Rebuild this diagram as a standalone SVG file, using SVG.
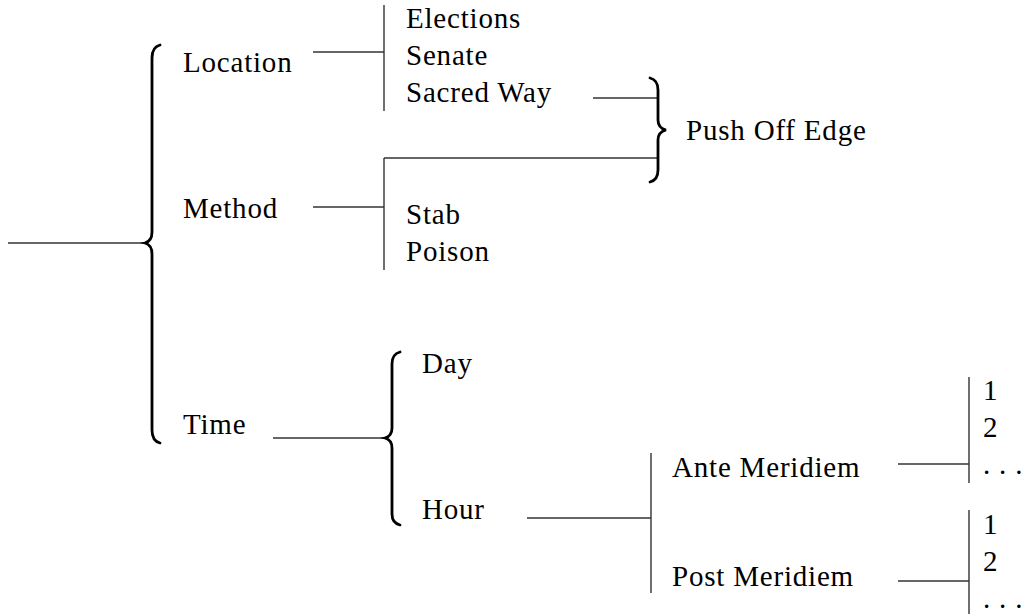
<svg xmlns="http://www.w3.org/2000/svg" width="1026" height="614" viewBox="0 0 1026 614">
<style>
text{font-family:"Liberation Serif","Times New Roman",serif;font-size:29px;fill:#000;letter-spacing:0.8px}
.ln{stroke:#333;stroke-width:1.4;fill:none}
.br{stroke:#000;stroke-width:2.8;fill:none;stroke-linecap:round}
</style>
<rect width="1026" height="614" fill="#fff"/>
<g id="connectors">
<line class="ln" x1="8" y1="243" x2="146" y2="243"/>
<line class="ln" x1="313" y1="52" x2="384" y2="52"/>
<line class="ln" x1="384" y1="5" x2="384" y2="111"/>
<line class="ln" x1="313" y1="207" x2="384" y2="207"/>
<line class="ln" x1="384" y1="158" x2="384" y2="270"/>
<line class="ln" x1="384" y1="158" x2="658" y2="158"/>
<line class="ln" x1="593" y1="98" x2="658" y2="98"/>
<line class="ln" x1="273" y1="438" x2="386" y2="438"/>
<line class="ln" x1="527" y1="518" x2="651" y2="518"/>
<line class="ln" x1="651" y1="453" x2="651" y2="593"/>
<line class="ln" x1="898" y1="464" x2="969" y2="464"/>
<line class="ln" x1="969" y1="377" x2="969" y2="483"/>
<line class="ln" x1="898" y1="581" x2="969" y2="581"/>
<line class="ln" x1="969" y1="510" x2="969" y2="614"/>
</g>
<g id="brace-root">
<path class="br" d="M160,45 Q152,47 152,58 L152,232 Q152,241 145,243 Q152,245 152,254 L152,430 Q152,441 160,443"/>
</g>
<g id="brace-time">
<path class="br" d="M400,352 Q392,354 392,364 L392,428 Q392,436 385,438 Q392,440 392,448 L392,514 Q392,523 400,525"/>
</g>
<g id="brace-push">
<path class="br" d="M650,78 Q658,80 658,90 L658,120 Q658,128 666,130 Q658,132 658,140 L658,170 Q658,180 650,182"/>
</g>
<g id="location"><text x="183" y="72">Location</text></g>
<g id="method"><text x="183" y="218">Method</text></g>
<g id="time"><text x="183" y="434">Time</text></g>
<g id="location-items">
<text x="406" y="28">Elections</text>
<text x="406" y="65">Senate</text>
<text x="406" y="102">Sacred Way</text>
</g>
<g id="method-items">
<text x="406" y="224">Stab</text>
<text x="406" y="261">Poison</text>
</g>
<g id="push-off-edge"><text x="686" y="140">Push Off Edge</text></g>
<g id="day"><text x="422" y="373">Day</text></g>
<g id="hour"><text x="422" y="519">Hour</text></g>
<g id="ante"><text x="672" y="477">Ante Meridiem</text></g>
<g id="post"><text x="672" y="586">Post Meridiem</text></g>
<g id="ante-items">
<text x="983" y="400">1</text>
<text x="983" y="437">2</text>
<text x="983" y="474">. . .</text>
</g>
<g id="post-items">
<text x="983" y="534">1</text>
<text x="983" y="571">2</text>
<text x="983" y="608">. . .</text>
</g>
</svg>
